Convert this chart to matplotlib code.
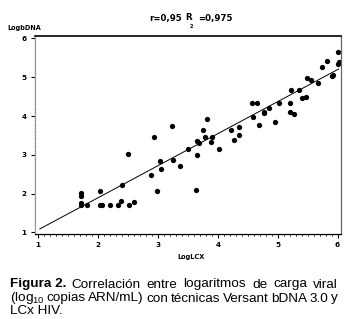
import numpy as np
import matplotlib
matplotlib.use("Agg")
import matplotlib.pyplot as plt
from matplotlib.ticker import MultipleLocator

# values
lcx = [1.72, 1.72, 1.72, 1.72, 1.82, 2.03, 2.07, 2.04, 2.21, 2.34,
       2.38, 2.41, 2.51, 2.52, 2.60, 2.89, 2.93, 2.98, 3.03, 3.06,
       3.26, 3.24, 3.37, 3.50, 3.64, 3.65, 3.66, 3.69, 3.75, 3.79,
       3.82, 3.89, 3.91, 4.02, 4.22, 4.27, 4.35, 4.35, 4.58, 4.65,
       4.59, 4.69, 4.77, 4.78, 4.86, 4.95, 5.03, 5.20, 5.28, 5.21,
       5.23, 5.36, 5.40, 5.48, 5.49, 5.55, 5.67, 5.74, 5.83, 5.90,
       5.93, 6.01, 6.01, 6.02]
bdna = [2.02, 1.93, 1.75, 1.71, 1.72, 1.71, 1.71, 2.06, 1.71, 1.71,
        1.82, 2.21, 3.03, 1.71, 1.79, 2.48, 3.46, 2.08, 2.83, 2.63,
        2.86, 3.74, 2.71, 3.16, 2.09, 3.00, 3.36, 3.30, 3.64, 3.47,
        3.93, 3.33, 3.47, 3.14, 3.65, 3.38, 3.72, 3.51, 4.34, 4.34,
        3.97, 3.77, 4.11, 4.08, 4.21, 3.85, 4.34, 4.10, 4.04, 4.34,
        4.67, 4.67, 4.47, 4.48, 4.97, 4.94, 4.86, 5.26, 5.41, 5.02,
        5.05, 5.66, 5.34, 5.38]
fit_slope = 0.826
fit_intercept = 0.24
fit_range = [1.03, 6.02]
ticks = [1, 2, 3, 4, 5, 6]

W, H = 346, 319
fig = plt.figure(figsize=(W / 100, H / 100), dpi=100)
fig.patch.set_facecolor("white")


def px(x, y):
    # pixel coords (top-left origin) -> figure fraction
    return x / W, 1 - y / H


ax = fig.add_axes([35 / W, (H - 234) / H, (340.5 - 35) / W, (234 - 35.7) / H])
ax.set_xlim(0.95, 6.05)
ax.set_ylim(0.96, 6.07)

ax.plot(lcx, bdna, "o", color="black", markersize=3.8, markeredgewidth=0)
fx = np.array(fit_range)
ax.plot(fx, fit_slope * fx + fit_intercept, color="black", lw=0.7)

ax.set_xticks(ticks)
ax.set_yticks(ticks)
ax.xaxis.set_minor_locator(MultipleLocator(0.1))
ax.yaxis.set_minor_locator(MultipleLocator(0.1))
ax.tick_params(axis="both", which="major", direction="out", length=3,
               width=0.8, labelsize=5.2, pad=3)
ax.tick_params(axis="x", which="minor", direction="out", length=1.5, width=0.6)
ax.tick_params(axis="y", which="minor", direction="out", length=1.0,
               width=0.5, color="#999999")
for lab in ax.get_xticklabels() + ax.get_yticklabels():
    lab.set_fontweight("bold")
    lab.set_family("DejaVu Sans")

ax.spines["top"].set_linewidth(1.2)
ax.spines["bottom"].set_linewidth(0.9)
ax.spines["right"].set_linewidth(0.9)
ax.spines["right"].set_color("#666666")
ax.spines["left"].set_linewidth(0.9)
ax.spines["left"].set_color("#999999")

# title pieces
bold = dict(family="DejaVu Sans", fontweight="bold", va="center", ha="left")
fig.text(*px(149, 18), "r=0,95", fontsize=6.2, **bold)
fig.text(*px(185, 18), "R", fontsize=6.2, **bold)
fig.text(*px(189.5, 26.5), "2", fontsize=3.5, **bold)
fig.text(*px(198.5, 18), "=0,975", fontsize=6.2, **bold)

fig.text(*px(7, 28.3), "LogbDNA", fontsize=4.7, **bold)
fig.text(*px(191.5, 256.7), "LogLCX", fontsize=4.7, family="DejaVu Sans",
         fontweight="bold", ha="center", va="center")

# caption, justified like the original
plt.rcParams["mathtext.fontset"] = "custom"
plt.rcParams["mathtext.rm"] = "Liberation Sans"
cap_size = 9.7
left, right = 9.5, 337.5
renderer = fig.canvas.get_renderer()


def justify(words, y):
    items = []
    for w, weight in words:
        t = fig.text(*px(left, y), w, fontsize=cap_size, family="Liberation Sans",
                     fontweight=weight, ha="left", va="baseline")
        items.append(t)
    widths = [t.get_window_extent(renderer).width for t in items]
    gap = (right - left - sum(widths)) / (len(items) - 1)
    x = left
    for t, w in zip(items, widths):
        t.set_position(px(x, y))
        x += w + gap


line1 = [("Figura 2.", "bold")] + \
    [(w, "normal") for w in "Correlación entre logaritmos de carga viral".split()]
line2 = [(w, "normal") for w in
         r"(log$\mathregular{_{10}}$ copias ARN/mL) con técnicas Versant bDNA 3.0 y".split()]
justify(line1, 287.5)
justify(line2, 301.5)
fig.text(*px(left, 314.5), "LCx HIV.", fontsize=cap_size, family="Liberation Sans",
         ha="left", va="baseline")

fig.savefig("out.png", dpi=100)
